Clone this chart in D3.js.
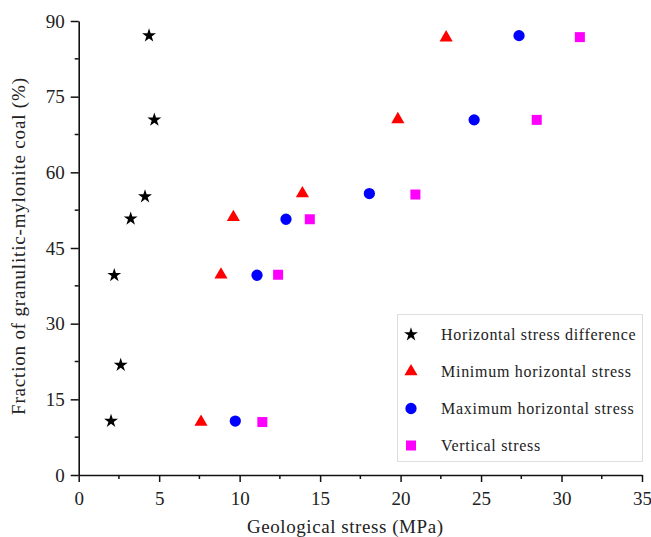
<!DOCTYPE html>
<html>
<head>
<meta charset="utf-8">
<script src="https://cdn.jsdelivr.net/npm/d3@7"></script>
<style>
  body { margin: 0; background: #fff; }
  svg { display: block; }
  text { font-family: "Liberation Serif", "Times New Roman", serif !important; fill: #222; }
</style>
</head>
<body>
<svg id="chart" width="651" height="537"></svg>
<script>
// ---- Data ----
const seriesNames = ["Horizontal stress difference", "Minimum horizontal stress", "Maximum horizontal stress", "Vertical stress"];
const hsdX = [2.01, 2.61, 2.21, 3.23, 4.12, 4.70, 4.37];
const hsdY = [10.7, 21.8, 39.6, 50.8, 55.2, 70.4, 87.1];
const minX = [7.60, 8.84, 9.61, 13.90, 19.83, 22.83];
const minY = [10.5, 39.7, 51.1, 55.8, 70.5, 86.7];
const maxX = [9.73, 11.08, 12.88, 18.06, 24.57, 27.36];
const maxY = [10.7, 39.6, 50.7, 55.8, 70.4, 87.1];
const verX = [11.41, 12.39, 14.36, 20.92, 28.46, 31.14];
const verY = [10.5, 39.7, 50.7, 55.6, 70.4, 86.8];
const xTicks = [0, 5, 10, 15, 20, 25, 30, 35];
const yTicks = [0, 15, 30, 45, 60, 75, 90];
const xMinor = [2.5, 7.5, 12.5, 17.5, 22.5, 27.5, 32.5];
const yMinor = [7.5, 22.5, 37.5, 52.5, 67.5, 82.5];

// ---- Layout ----
const svg = d3.select("#chart");
const mLeft = 78.7, mRight = 642, mTop = 21, mBottom = 475;
const x = d3.scaleLinear().domain([0, 35]).range([mLeft, mRight]);
const y = d3.scaleLinear().domain([0, 90]).range([mBottom, mTop]);
const serif = '"Liberation Serif", "Times New Roman", serif';

const series = [
  { name: seriesNames[0], xs: hsdX, ys: hsdY, type: d3.symbolStar, size: 60, color: "#000000", w: 194.6 },
  { name: seriesNames[1], xs: minX, ys: minY, type: d3.symbolTriangle, size: 75, color: "#ff0000", w: 190 },
  { name: seriesNames[2], xs: maxX, ys: maxY, type: d3.symbolCircle, size: 100, color: "#0000ff", w: 192.7 },
  { name: seriesNames[3], xs: verX, ys: verY, type: d3.symbolSquare, size: 100, color: "#ff00ff", w: 99.3 }
];

// ---- Axes ----
const xAxis = svg.append("g").attr("transform", `translate(0,${mBottom})`)
  .call(d3.axisBottom(x).tickValues(xTicks).tickSize(7).tickSizeOuter(0).tickPadding(10));
const yAxis = svg.append("g").attr("transform", `translate(${mLeft},0)`)
  .call(d3.axisLeft(y).tickValues(yTicks).tickSize(8).tickSizeOuter(0).tickPadding(6));
[xAxis, yAxis].forEach(g => {
  g.attr("font-family", serif);
  g.select(".domain").attr("stroke", "#111").attr("stroke-width", 1.6);
  g.selectAll(".tick line").attr("stroke", "#111").attr("stroke-width", 1.5);
  g.selectAll(".tick text").style("font-family", serif).attr("font-size", 19).attr("fill", "#222");
});
// minor ticks
svg.append("g").selectAll("line").data(xMinor).join("line")
  .attr("x1", d => x(d)).attr("x2", d => x(d)).attr("y1", mBottom).attr("y2", mBottom + 4)
  .attr("stroke", "#111").attr("stroke-width", 1.5);
svg.append("g").selectAll("line").data(yMinor).join("line")
  .attr("y1", d => y(d)).attr("y2", d => y(d)).attr("x1", mLeft).attr("x2", mLeft - 4)
  .attr("stroke", "#111").attr("stroke-width", 1.5);

// axis titles
svg.append("text").attr("x", 345).attr("y", 533).attr("text-anchor", "middle")
  .attr("font-size", 19).attr("textLength", 196).attr("lengthAdjust", "spacing")
  .text("Geological stress (MPa)");
svg.append("text").attr("transform", `translate(25,246.5) rotate(-90)`)
  .attr("text-anchor", "middle").attr("font-size", 19).attr("textLength", 337).attr("lengthAdjust", "spacing")
  .text("Fraction of granulitic-mylonite coal (%)");

// ---- Points ----
series.forEach(s => {
  const sym = d3.symbol().type(s.type).size(s.size);
  svg.append("g").selectAll("path").data(s.xs.map((v, i) => [v, s.ys[i]])).join("path")
    .attr("d", sym)
    .attr("transform", d => `translate(${x(d[0])},${y(d[1])})`)
    .attr("fill", s.color);
});

// ---- Legend ----
const lg = svg.append("g");
lg.append("rect").attr("x", 397.5).attr("y", 314.5).attr("width", 245).attr("height", 147)
  .attr("fill", "#fff").attr("stroke", "#ddd").attr("stroke-width", 1);
const ly = [334.5, 371.5, 408.5, 445.5];
series.forEach((s, i) => {
  lg.append("path").attr("d", d3.symbol().type(s.type).size(s.size)())
    .attr("transform", `translate(411,${ly[i]})`).attr("fill", s.color);
  lg.append("text").attr("x", 441).attr("y", ly[i] + 5.5).attr("font-size", 16)
    .attr("textLength", s.w).attr("lengthAdjust", "spacing").text(s.name);
});
</script>
</body>
</html>
